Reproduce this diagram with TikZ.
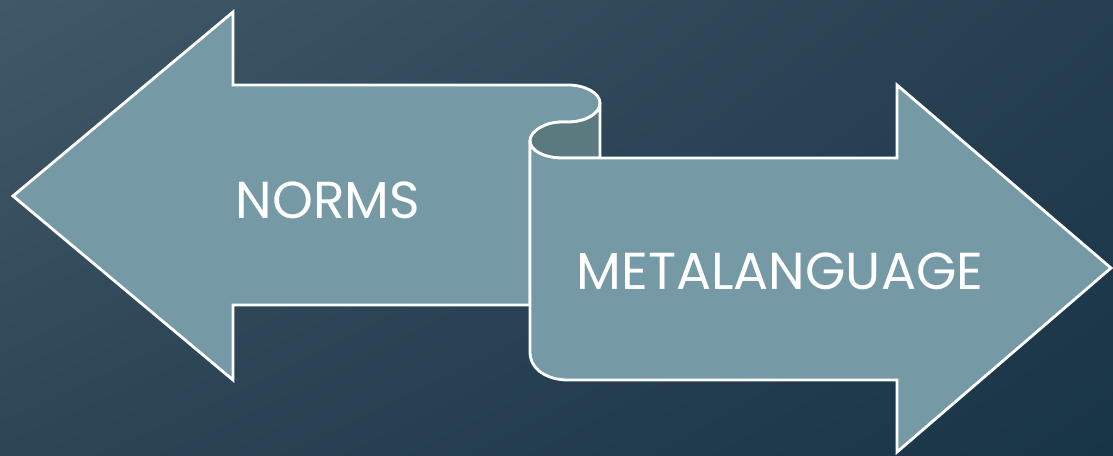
\documentclass[tikz,border=0pt]{standalone}
\usepackage{fontspec}
\setmainfont{Poppins}
\usetikzlibrary{calc,shadings}

\definecolor{bgtl}{HTML}{415868}
\definecolor{bgtr}{HTML}{253F50}
\definecolor{bgbl}{HTML}{2D4656}
\definecolor{bgbr}{HTML}{183447}
\definecolor{arrowfill}{HTML}{7599A5}
\definecolor{foldfill}{HTML}{5A7A80}

\tikzset{
  arrowshape/.style={fill=arrowfill, draw=white, line width=2pt},
  foldshape/.style={fill=foldfill, draw=white, line width=2pt},
  label/.style={text=white, font=\fontsize{37}{42}\selectfont}
}

\begin{document}
\begin{tikzpicture}[x=0.025cm, y=-0.025cm]
          \shade[upper left=bgtl, upper right=bgtr, lower left=bgbl, lower right=bgbr] (0,0) rectangle (1113,455);
          \useasboundingbox (0,0) rectangle (1113,455);

          % left arrow
          \draw[arrowshape] (13,196) -- (233,12) -- (233,85) -- (568,85)
              .. controls (585,85) and (600,93) .. (600,103)
              .. controls (600,114) and (585,122) .. (568,122) -- (562,122)
              .. controls (545,122) and (530,131) .. (530,141)
              -- (530,305) -- (233,305) -- (233,380) -- cycle;

          % rolled part
          \draw[foldshape] (600,103) .. controls (600,114) and (585,122) .. (568,122) -- (562,122)
              .. controls (545,122) and (530,131) .. (530,141)
              .. controls (530,151) and (545,158) .. (562,158) -- (600,158) -- cycle;

          % right arrow
          \draw[arrowshape] (530,141) .. controls (530,151) and (545,158) .. (562,158)
              -- (897,158) -- (897,85) -- (1111,268) -- (897,452) -- (897,380) -- (568,380)
              .. controls (548,380) and (530,370) .. (530,352) -- cycle;

          \node[label] (norms) at (328,200) {NORMS};
          \node[label] (meta) at (780,271) {METALANGUAGE};
        \end{tikzpicture}
\end{document}
